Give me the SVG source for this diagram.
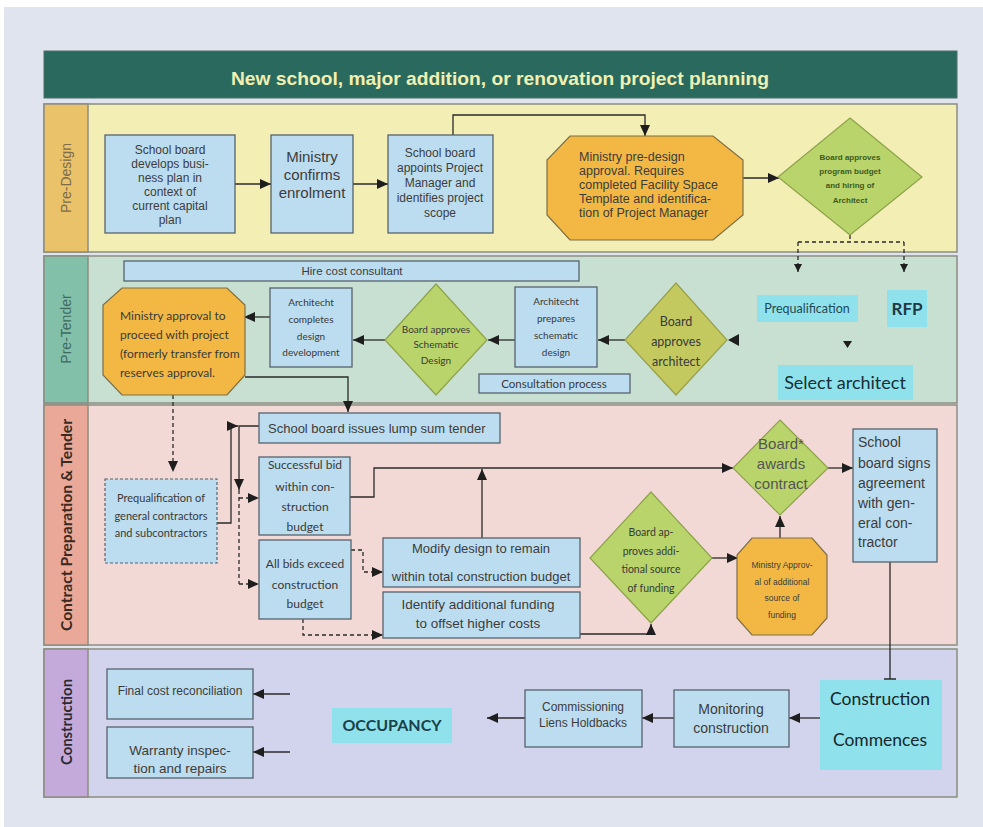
<svg xmlns="http://www.w3.org/2000/svg" width="983" height="827" viewBox="0 0 983 827">
<defs>
<marker id="ah" markerUnits="userSpaceOnUse" markerWidth="12" markerHeight="10" refX="11" refY="5" orient="auto"><path d="M0,0 L11,5 L0,10 Z" fill="#1e1e1e"/></marker>
<marker id="ahs" markerUnits="userSpaceOnUse" markerWidth="9" markerHeight="8" refX="8" refY="4" orient="auto"><path d="M0,0 L8,4 L0,8 Z" fill="#1e1e1e"/></marker>
<style>
.box{fill:#bcdcef;stroke:#56636e;stroke-width:1.3}
.oct{fill:#f2b843;stroke:#7d6e48;stroke-width:1.2}
.dia{fill:#b9d46a;stroke:#8ea24a;stroke-width:1.2}
.cy{fill:#8fe2ec}
.t{font-family:"Liberation Sans",Arial,sans-serif;fill:#3c3c3c;text-anchor:middle}
.c{font-family:Lato,"Liberation Sans",sans-serif;fill:#3a3a3a;text-anchor:middle}
.l{text-anchor:start}
.ln{fill:none;stroke:#2a2a2a;stroke-width:1.3}
.dl{fill:none;stroke:#2a2a2a;stroke-width:1.3;stroke-dasharray:4 3}
</style>
</defs>
<rect x="0" y="0" width="983" height="827" fill="#ffffff"/>
<rect x="4" y="7" width="979" height="820" fill="#dfe4ef"/>

<g id="header">
<rect x="44" y="51" width="913" height="47" fill="#2a6a5e" stroke="#4d6e66"/>
<text x="500" y="85" font-family="'Liberation Sans',Arial,sans-serif" font-weight="bold" font-size="19" fill="#f0f0b2" text-anchor="middle" textLength="538" lengthAdjust="spacingAndGlyphs">New school, major addition, or renovation project planning</text>
</g>

<g id="lanes">
<rect x="44" y="104" width="913" height="148" fill="#f2eeb4" stroke="#8d8d80" stroke-width="1.5"/>
<rect x="44" y="104" width="44" height="148" fill="#e9c26a" stroke="#8d8d80" stroke-width="1.5"/>
<text transform="translate(71,178) rotate(-90)" font-family="'Liberation Sans',Arial,sans-serif" font-size="14" fill="#7b6c4a" text-anchor="middle">Pre-Design</text>
<rect x="44" y="256" width="913" height="147" fill="#c8e0d2" stroke="#8d8d80" stroke-width="1.5"/>
<rect x="44" y="256" width="44" height="147" fill="#82c0aa" stroke="#8d8d80" stroke-width="1.5"/>
<text transform="translate(71,329) rotate(-90)" font-family="'Liberation Sans',Arial,sans-serif" font-size="14" fill="#3f6a60" text-anchor="middle">Pre-Tender</text>
<rect x="44" y="405" width="913" height="240" fill="#f3d9d5" stroke="#8d8d80" stroke-width="1.5"/>
<rect x="44" y="405" width="44" height="240" fill="#eaa898" stroke="#8d8d80" stroke-width="1.5"/>
<text transform="translate(72,525) rotate(-90)" font-family="Lato,'Liberation Sans',sans-serif" font-size="16" font-weight="bold" fill="#3a2a22" text-anchor="middle" textLength="212" lengthAdjust="spacingAndGlyphs">Contract Preparation &amp; Tender</text>
<rect x="44" y="649" width="913" height="148" fill="#d2d3ec" stroke="#8d8d80" stroke-width="1.5"/>
<rect x="44" y="649" width="44" height="148" fill="#c3aadb" stroke="#8d8d80" stroke-width="1.5"/>
<text transform="translate(72,722) rotate(-90)" font-family="Lato,'Liberation Sans',sans-serif" font-size="16" font-weight="bold" fill="#2a2a30" text-anchor="middle" textLength="86" lengthAdjust="spacingAndGlyphs">Construction</text>
</g>

<g id="connectors">
<path class="ln" d="M235,184 H271" marker-end="url(#ah)"/>
<path class="ln" d="M353,184 H388" marker-end="url(#ah)"/>
<path class="ln" d="M453,135 V115 H645 V136" marker-end="url(#ah)"/>
<path class="ln" d="M743,178 H779" marker-end="url(#ah)"/>
<path class="dl" d="M850,235 V242 M798,242 H904"/>
<path class="dl" d="M798,242 V272" marker-end="url(#ahs)"/>
<path class="dl" d="M904,242 V272" marker-end="url(#ahs)"/>
<path class="ln" d="M270,317 H244" marker-end="url(#ah)"/>
<path class="ln" d="M385,340 H353" marker-end="url(#ah)"/>
<path class="ln" d="M515,340 H488" marker-end="url(#ah)"/>
<path class="ln" d="M625,340 H598" marker-end="url(#ah)"/>
<path d="M728,340 L739,334 L739,346 Z" fill="#1e1e1e"/>
<path d="M843,341 L852,341 L847.5,348 Z" fill="#1e1e1e"/>
<path class="ln" d="M245,377 H348 V412" marker-end="url(#ah)"/>
<path class="dl" d="M173,395 V472" marker-end="url(#ah)"/>
<path class="ln" d="M217,523 H231 V426 H238" marker-end="url(#ah)"/>
<path class="ln" d="M259,426 H239 V490" marker-end="url(#ah)"/>
<path class="dl" d="M239,490 V584"/>
<path class="dl" d="M239,498 H259" marker-end="url(#ah)"/>
<path class="dl" d="M239,584 H259" marker-end="url(#ah)"/>
<path class="dl" d="M351,550 H363 V572 H383" marker-end="url(#ah)"/>
<path class="dl" d="M303,619 V635 H383" marker-end="url(#ah)"/>
<path class="ln" d="M350,497 H374 V468 H733" marker-end="url(#ah)"/>
<path class="ln" d="M482,538 V469" marker-end="url(#ah)"/>
<path class="ln" d="M828,468 H853" marker-end="url(#ah)"/>
<path class="ln" d="M580,634 H651 V624" marker-end="url(#ah)"/>
<path class="ln" d="M712,558 H738" marker-end="url(#ah)"/>
<path class="ln" d="M780,538 V516" marker-end="url(#ah)"/>
<path class="ln" d="M890,562 V679 M884,679 H896"/>
<path class="ln" d="M290,694 H253" marker-end="url(#ah)"/>
<path class="ln" d="M290,752 H253" marker-end="url(#ah)"/>
<path class="ln" d="M525,718 H487" marker-end="url(#ah)"/>
<path class="ln" d="M674,718 H642" marker-end="url(#ah)"/>
<path class="ln" d="M820,718 H789" marker-end="url(#ah)"/>
</g>

<g id="n-business-plan">
<rect class="box" x="105" y="135" width="130" height="98"/>
<text class="t" font-size="12"><tspan x="170" y="154">School board</tspan><tspan x="170" y="168">develops busi-</tspan><tspan x="170" y="182">ness plan in</tspan><tspan x="170" y="196">context of</tspan><tspan x="170" y="210">current capital</tspan><tspan x="170" y="224">plan</tspan></text>
</g>
<g id="n-enrolment">
<rect class="box" x="271" y="135" width="82" height="98"/>
<text class="t" font-size="15"><tspan x="312" y="162">Ministry</tspan><tspan x="312" y="180">confirms</tspan><tspan x="312" y="198">enrolment</tspan></text>
</g>
<g id="n-appoints-pm">
<rect class="box" x="388" y="135" width="105" height="98"/>
<text class="t" font-size="12"><tspan x="440" y="157">School board</tspan><tspan x="440" y="172">appoints Project</tspan><tspan x="440" y="187">Manager and</tspan><tspan x="440" y="202">identifies project</tspan><tspan x="440" y="217">scope</tspan></text>
</g>
<g id="n-predesign-approval">
<polygon class="oct" points="570,136 713,136 743,160 743,215 713,240 570,240 547,215 547,160"/>
<text class="t l" font-size="12.5"><tspan x="579" y="161">Ministry pre-design</tspan><tspan x="579" y="175">approval. Requires</tspan><tspan x="579" y="189">completed Facility Space</tspan><tspan x="579" y="203">Template and identifica-</tspan><tspan x="579" y="217">tion of Project Manager</tspan></text>
</g>
<g id="n-program-budget">
<polygon class="dia" points="850,118 922,177 850,235 778,177"/>
<text class="t" font-size="8" font-weight="bold" fill="#3e5a20" style="fill:#3e5a20"><tspan x="850" y="160">Board approves</tspan><tspan x="850" y="174">program  budget</tspan><tspan x="850" y="188">and hiring of</tspan><tspan x="850" y="203">Architect</tspan></text>
</g>

<g id="n-hire-cost-consultant">
<rect class="box" x="124" y="261" width="455" height="20"/>
<text class="t" font-size="11.5" x="352" y="275">Hire cost consultant</text>
</g>
<g id="n-ministry-proceed">
<polygon class="oct" points="122,288 227,288 245,305 245,375 227,395 122,395 103,375 103,305"/>
<text class="c l" font-size="12" fill="#2e2e2e"><tspan x="120" y="320">Ministry approval to</tspan><tspan x="120" y="339">proceed with project</tspan><tspan x="120" y="358">(formerly transfer from</tspan><tspan x="120" y="377">reserves approval.</tspan></text>
</g>
<g id="n-design-development">
<rect class="box" x="270" y="288" width="82" height="79"/>
<text class="c" font-size="10"><tspan x="311" y="306">Architecht</tspan><tspan x="311" y="323">completes</tspan><tspan x="311" y="340">design</tspan><tspan x="311" y="356">development</tspan></text>
</g>
<g id="n-schematic-approval">
<polygon class="dia" points="436,284 487,340 436,395 385,340"/>
<text class="c" font-size="10"><tspan x="436" y="333">Board approves</tspan><tspan x="436" y="348">Schematic</tspan><tspan x="436" y="364">Design</tspan></text>
</g>
<g id="n-schematic-design">
<rect class="box" x="515" y="287" width="82" height="80"/>
<text class="c" font-size="10"><tspan x="556" y="305">Architecht</tspan><tspan x="556" y="322">prepares</tspan><tspan x="556" y="339">schematic</tspan><tspan x="556" y="356">design</tspan></text>
</g>
<g id="n-consultation">
<rect class="box" x="479" y="374" width="151" height="19"/>
<text class="c" font-size="11.5" x="554" y="388">Consultation process</text>
</g>
<g id="n-approves-architect">
<polygon points="676,283 727,340 676,395 625,340" fill="#c3c95f" stroke="#98a04a" stroke-width="1.2"/>
<text class="c" font-size="12.5"><tspan x="676" y="326">Board</tspan><tspan x="676" y="346">approves</tspan><tspan x="676" y="366">architect</tspan></text>
</g>
<g id="n-prequalification">
<rect class="cy" x="757" y="295" width="101" height="27"/>
<text class="c" font-size="12.5" fill="#1f4a55" style="fill:#1f4a55" x="807" y="313">Prequalification</text>
</g>
<g id="n-rfp">
<rect class="cy" x="887" y="290" width="40" height="37"/>
<text class="c" font-size="17" font-weight="bold" fill="#1f3a45" style="fill:#1f3a45" x="907" y="315">RFP</text>
</g>
<g id="n-select-architect">
<rect class="cy" x="778" y="365" width="135" height="35"/>
<text class="c" font-size="18" fill="#16303a" style="fill:#16303a" x="845" y="389">Select architect</text>
</g>

<g id="n-lump-sum">
<rect class="box" x="259" y="413" width="241" height="30"/>
<text class="t l" font-size="13" x="268" y="433">School board issues lump sum tender</text>
</g>
<g id="n-prequal-contractors">
<rect x="105" y="479" width="112" height="84" fill="#bcdcef" stroke="#56636e" stroke-width="1.2" stroke-dasharray="3 2"/>
<text class="c" font-size="11"><tspan x="161" y="502">Prequalification of</tspan><tspan x="161" y="520">general contractors</tspan><tspan x="161" y="537">and subcontractors</tspan></text>
</g>
<g id="n-successful-bid">
<rect class="box" x="259" y="457" width="91" height="78"/>
<text class="c" font-size="12"><tspan x="305" y="469">Successful bid</tspan><tspan x="305" y="491">within con-</tspan><tspan x="305" y="511">struction</tspan><tspan x="305" y="531">budget</tspan></text>
</g>
<g id="n-bids-exceed">
<rect class="box" x="259" y="540" width="92" height="79"/>
<text class="c" font-size="12"><tspan x="305" y="568">All bids exceed</tspan><tspan x="305" y="589">construction</tspan><tspan x="305" y="608">budget</tspan></text>
</g>
<g id="n-modify-design">
<rect class="box" x="383" y="538" width="197" height="49"/>
<text class="t" font-size="13"><tspan x="481" y="553">Modify design to remain</tspan><tspan x="481" y="581">within total construction budget</tspan></text>
</g>
<g id="n-identify-funding">
<rect class="box" x="383" y="592" width="197" height="46"/>
<text class="t" font-size="13.5"><tspan x="478" y="609">Identify additional funding</tspan><tspan x="478" y="628">to offset higher costs</tspan></text>
</g>
<g id="n-additional-funding">
<polygon class="dia" points="651,492 712,558 651,623 590,558"/>
<text class="c" font-size="10.5"><tspan x="651" y="536">Board ap-</tspan><tspan x="651" y="555">proves addi-</tspan><tspan x="651" y="573">tional source</tspan><tspan x="651" y="592">of funding</tspan></text>
</g>
<g id="n-ministry-additional">
<polygon class="oct" points="752,538 812,538 827,555 827,618 812,635 752,635 737,618 737,555"/>
<text class="t" font-size="8.5"><tspan x="782" y="568">Ministry Approv-</tspan><tspan x="782" y="585">al of additional</tspan><tspan x="782" y="601">source of</tspan><tspan x="782" y="618">funding</tspan></text>
</g>
<g id="n-awards-contract">
<polygon class="dia" points="780,420 828,468 780,515 733,468"/>
<text class="t" font-size="15" fill="#555" style="fill:#555"><tspan x="781" y="449">Board*</tspan><tspan x="781" y="469">awards</tspan><tspan x="781" y="489">contract</tspan></text>
</g>
<g id="n-signs-agreement">
<rect class="box" x="853" y="429" width="84" height="133"/>
<text class="t l" font-size="14"><tspan x="858" y="447">School</tspan><tspan x="858" y="468">board signs</tspan><tspan x="858" y="488">agreement</tspan><tspan x="858" y="508">with gen-</tspan><tspan x="858" y="528">eral con-</tspan><tspan x="858" y="547">tractor</tspan></text>
</g>

<g id="n-final-cost">
<rect class="box" x="107" y="669" width="146" height="50"/>
<text class="t" font-size="12" x="180" y="695">Final cost reconciliation</text>
</g>
<g id="n-warranty">
<rect class="box" x="107" y="727" width="146" height="51"/>
<text class="t" font-size="13.5"><tspan x="180" y="755">Warranty inspec-</tspan><tspan x="180" y="773">tion and repairs</tspan></text>
</g>
<g id="n-occupancy">
<rect class="cy" x="332" y="708" width="120" height="35"/>
<text class="c" font-size="16" font-weight="bold" fill="#1a4048" style="fill:#1a4048" x="392" y="731">OCCUPANCY</text>
</g>
<g id="n-commissioning">
<rect class="box" x="525" y="690" width="117" height="57"/>
<text class="t" font-size="12"><tspan x="583" y="711">Commissioning</tspan><tspan x="583" y="727">Liens Holdbacks</tspan></text>
</g>
<g id="n-monitoring">
<rect class="box" x="674" y="690" width="115" height="57"/>
<text class="t" font-size="14"><tspan x="731" y="714">Monitoring</tspan><tspan x="731" y="733">construction</tspan></text>
</g>
<g id="n-construction-commences">
<rect class="cy" x="820" y="680" width="122" height="90"/>
<text class="c" font-size="17.5" fill="#16262c" style="fill:#16262c"><tspan x="880" y="705">Construction</tspan><tspan x="880" y="746">Commences</tspan></text>
</g>
</svg>
